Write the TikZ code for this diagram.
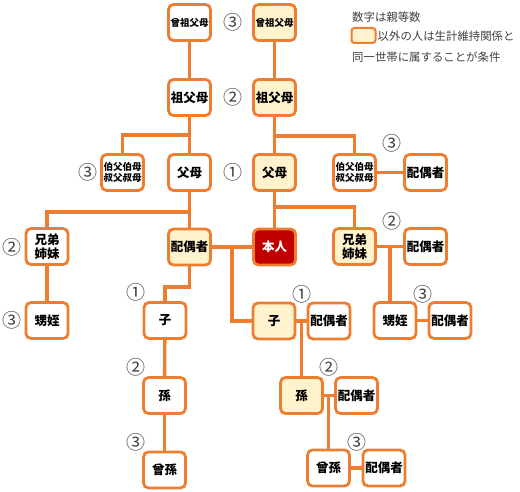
\documentclass[tikz,border=0pt]{standalone}
\usepackage{fontspec}
\newfontfamily\jp{Noto Sans CJK JP}
\usetikzlibrary{backgrounds}
\definecolor{orng}{RGB}{237,125,49}
\definecolor{ylw}{RGB}{255,242,204}
\definecolor{redf}{RGB}{192,0,0}
\definecolor{txt}{RGB}{64,64,64}
\tikzset{
  pbox/.style={draw=orng, line width=2.8pt, rounded corners=5pt, minimum width=42pt, minimum height=36pt, inner sep=0pt, fill=white, align=center, font=\jp\bfseries\fontsize{12.5}{14}\selectfont},
  yl/.style={fill=ylw},
  sm/.style={font=\jp\bfseries\fontsize{9.5}{11}\selectfont},
  conn/.style={draw=orng, line width=3.3pt},
  num/.style={font=\jp\fontsize{19}{19}\selectfont, text=txt, inner sep=0pt},
  leg/.style={font=\jp\fontsize{11.4}{12}\selectfont, text=txt, inner sep=0pt, anchor=west}
}
\begin{document}
\begin{tikzpicture}[x=1pt,y=-1pt]
\useasboundingbox (0,0) rectangle (520,492);
% nodes
\node[pbox,sm] (gg1) at (189.5,22.5) {曾祖父母};
\node[pbox,sm,yl] (gg2) at (274.5,22.5) {曾祖父母};
\node[pbox] (gp1) at (189.5,97.5) {祖父母};
\node[pbox,yl] (gp2) at (274.5,97.5) {祖父母};
\node[pbox,sm] (ua1) at (122.5,172.5) {伯父伯母\\叔父叔母};
\node[pbox] (p1) at (189.5,172.5) {父母};
\node[pbox,yl] (p2) at (274.5,172.5) {父母};
\node[pbox,sm] (ua2) at (354.5,172.5) {伯父伯母\\叔父叔母};
\node[pbox] (ua2s) at (425.5,172.5) {配偶者};
\node[pbox] (sib1) at (47,246.5) {兄弟\\姉妹};
\node[pbox,yl] (sp) at (189.5,247) {配偶者};
\node[pbox,fill=redf,text=white] (me) at (274.5,247) {本人};
\node[pbox,yl] (sib2) at (354.5,246.5) {兄弟\\姉妹};
\node[pbox] (sib2s) at (425.5,246.5) {配偶者};
\node[pbox] (nn1) at (47,320.5) {甥姪};
\node[pbox] (c1) at (165,320.5) {子};
\node[pbox,yl] (c2) at (274,321) {子};
\node[pbox] (c2s) at (329,321) {配偶者};
\node[pbox] (nn2) at (395,320.5) {甥姪};
\node[pbox] (nn2s) at (450,320.5) {配偶者};
\node[pbox] (gc1) at (164.5,395.5) {孫};
\node[pbox,yl] (gc2) at (301.5,395.5) {孫};
\node[pbox] (gc2s) at (356.5,395.5) {配偶者};
\node[pbox] (ggc1) at (164.5,470) {曾孫};
\node[pbox] (ggc2) at (328.5,468) {曾孫};
\node[pbox] (ggc2s) at (384,468) {配偶者};
% branch coordinates
\coordinate (b1) at (189.5,135);
\coordinate (b1r) at (274.5,136);
\coordinate (b2) at (189.5,212);
\coordinate (b3) at (274.5,207);
\coordinate (b4) at (390,246.5);
\coordinate (b5) at (232,247);
\coordinate (b6) at (165,287);
\coordinate (b7) at (301.5,321);
\coordinate (b8) at (328.5,395.5);
% connectors
\begin{scope}[on background layer]
\draw[conn] (gg1) -- (gp1);
\draw[conn] (gp1) -- (p1);
\draw[conn] (ua1.north) |- (b1);
\draw[conn] (gg2) -- (gp2);
\draw[conn] (gp2) -- (p2);
\draw[conn] (ua2.north) |- (b1r);
\draw[conn] (ua2) -- (ua2s);
\draw[conn] (p1) -- (sp);
\draw[conn] (sib1.north) |- (b2);
\draw[conn] (sib1) -- (nn1);
\draw[conn] (p2) -- (me);
\draw[conn] (sib2.north) |- (b3);
\draw[conn] (sib2) -- (sib2s);
\draw[conn] (b4) -- (b4 |- nn2.north);
\draw[conn] (nn2) -- (nn2s);
\draw[conn] (sp) -- (me);
\draw[conn] (b5) |- (c2.west);
\draw[conn] (sp.south) |- (b6) -- (c1.north);
\draw[conn] (c1) -- (gc1);
\draw[conn] (gc1) -- (ggc1);
\draw[conn] (c2) -- (c2s);
\draw[conn] (b7) -- (gc2.north);
\draw[conn] (gc2) -- (gc2s);
\draw[conn] (b8) -- (ggc2.north);
\draw[conn] (ggc2) -- (ggc2s);
\end{scope}
% degree numbers
\node[num] (n1) at (233,22) {③};
\node[num] (n2) at (233,97) {②};
\node[num] (n3) at (233,172) {①};
\node[num] (n4) at (88,172) {③};
\node[num] (n5) at (392,143) {③};
\node[num] (n6) at (12,247) {②};
\node[num] (n7) at (12,320) {③};
\node[num] (n8) at (136,292) {①};
\node[num] (n9) at (392,221) {②};
\node[num] (n10) at (423,294) {③};
\node[num] (n11) at (302,294) {①};
\node[num] (n12) at (136,367) {②};
\node[num] (n13) at (136,442) {③};
\node[num] (n14) at (329,367) {②};
\node[num] (n15) at (357,442) {③};
% legend
\node[leg] (l1) at (352,17) {数字は親等数};
\node[draw=orng, line width=2pt, fill=ylw, rounded corners=3pt, minimum width=24pt, minimum height=15pt, inner sep=0pt] (lb) at (363.5,35.5) {};
\node[leg] (l2) at (377.5,36) {以外の人は生計維持関係と};
\node[leg] (l3) at (352,57) {同一世帯に属することが条件};
\end{tikzpicture}
\end{document}
